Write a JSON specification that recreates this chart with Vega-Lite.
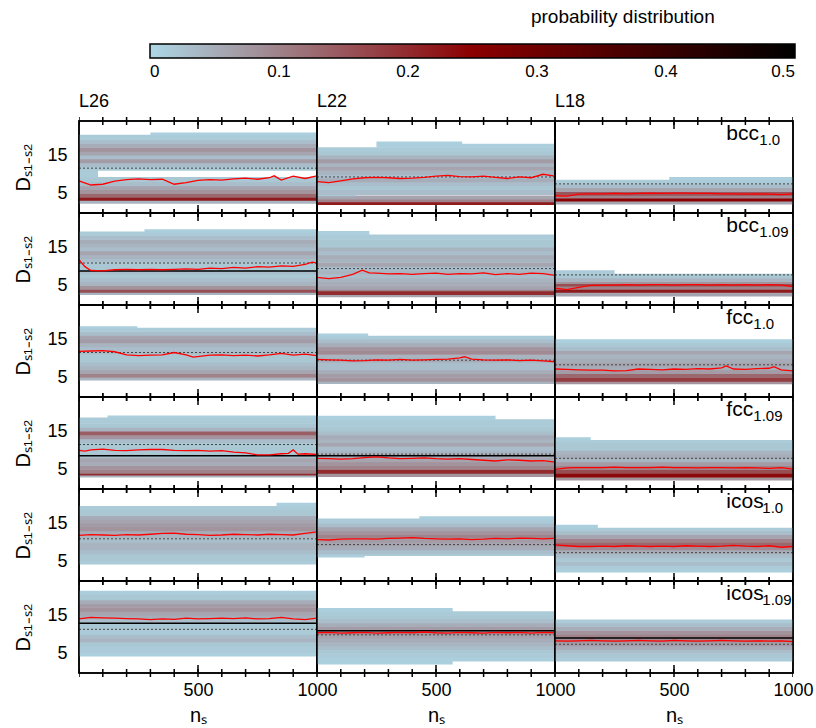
{
"$schema":"https://vega.github.io/schema/vega-lite/v6.json",
"padding":{"left":13,"top":8,"right":2,"bottom":2},
"title":{"text":"probability distribution","anchor":"start","dx":517,"fontSize":19,"fontWeight":"normal","font":"Liberation Sans","offset":17},
"data":{"values":[
{"c":"L26","r":"b0","a":0,"b":1000,"y":2.4,"z":3.2,"v":0.04},{"c":"L26","r":"b0","a":0,"b":1000,"y":3.2,"z":4,"v":0.22},{"c":"L26","r":"b0","a":0,"b":1000,"y":4,"z":5,"v":0.13},{"c":"L26","r":"b0","a":0,"b":1000,"y":5,"z":6,"v":0.08},{"c":"L26","r":"b0","a":0,"b":1000,"y":6,"z":7,"v":0.06},{"c":"L26","r":"b0","a":0,"b":1000,"y":7,"z":8,"v":0.03},{"c":"L26","r":"b0","a":0,"b":1000,"y":8,"z":9.2,"v":0.02},{"c":"L26","r":"b0","a":0,"b":80,"y":9.2,"z":11,"v":0.015},{"c":"L26","r":"b0","a":0,"b":1000,"y":11,"z":12,"v":0.02},{"c":"L26","r":"b0","a":0,"b":1000,"y":12,"z":13,"v":0.03},{"c":"L26","r":"b0","a":0,"b":1000,"y":13,"z":14,"v":0.07},{"c":"L26","r":"b0","a":0,"b":1000,"y":14,"z":15,"v":0.03},{"c":"L26","r":"b0","a":0,"b":1000,"y":15,"z":16,"v":0.06},{"c":"L26","r":"b0","a":0,"b":1000,"y":16,"z":17,"v":0.08},{"c":"L26","r":"b0","a":0,"b":1000,"y":17,"z":18,"v":0.05},{"c":"L26","r":"b0","a":0,"b":1000,"y":18,"z":19,"v":0.03},{"c":"L26","r":"b0","a":0,"b":1000,"y":19,"z":20.2,"v":0.015},{"c":"L26","r":"b0","a":300,"b":1000,"y":20.2,"z":20.8,"v":0.01},
{"c":"L22","r":"b0","a":0,"b":1000,"y":2.1,"z":2.8,"v":0.22},{"c":"L22","r":"b0","a":0,"b":1000,"y":2.8,"z":3.5,"v":0.1},{"c":"L22","r":"b0","a":0,"b":1000,"y":3.5,"z":4.4,"v":0.06},{"c":"L22","r":"b0","a":0,"b":165,"y":4.4,"z":4.7,"v":0.02},{"c":"L22","r":"b0","a":0,"b":1000,"y":4.7,"z":6,"v":0.03},{"c":"L22","r":"b0","a":0,"b":1000,"y":6,"z":7,"v":0.02},{"c":"L22","r":"b0","a":0,"b":1000,"y":7,"z":8,"v":0.03},{"c":"L22","r":"b0","a":0,"b":1000,"y":8,"z":9,"v":0.05},{"c":"L22","r":"b0","a":0,"b":1000,"y":9,"z":10,"v":0.03},{"c":"L22","r":"b0","a":0,"b":1000,"y":10,"z":11,"v":0.04},{"c":"L22","r":"b0","a":0,"b":1000,"y":11,"z":12,"v":0.06},{"c":"L22","r":"b0","a":0,"b":1000,"y":12,"z":13,"v":0.04},{"c":"L22","r":"b0","a":0,"b":1000,"y":13,"z":14,"v":0.07},{"c":"L22","r":"b0","a":0,"b":1000,"y":14,"z":15,"v":0.04},{"c":"L22","r":"b0","a":0,"b":1000,"y":15,"z":16,"v":0.02},{"c":"L22","r":"b0","a":0,"b":1000,"y":16,"z":17,"v":0.015},{"c":"L22","r":"b0","a":250,"b":1000,"y":17,"z":17.9,"v":0.01},{"c":"L22","r":"b0","a":250,"b":610,"y":17.9,"z":18.5,"v":0.01},
{"c":"L18","r":"b0","a":0,"b":1000,"y":2.2,"z":3,"v":0.06},{"c":"L18","r":"b0","a":0,"b":1000,"y":3,"z":3.8,"v":0.25},{"c":"L18","r":"b0","a":0,"b":1000,"y":3.8,"z":4.5,"v":0.1},{"c":"L18","r":"b0","a":0,"b":1000,"y":4.5,"z":5.5,"v":0.15},{"c":"L18","r":"b0","a":0,"b":1000,"y":5.5,"z":6.5,"v":0.06},{"c":"L18","r":"b0","a":0,"b":1000,"y":6.5,"z":7.5,"v":0.03},{"c":"L18","r":"b0","a":0,"b":1000,"y":7.5,"z":8.5,"v":0.015},{"c":"L18","r":"b0","a":480,"b":1000,"y":8.5,"z":9.2,"v":0.01},
{"c":"L26","r":"b9","a":0,"b":1000,"y":2.6,"z":3.2,"v":0.04},{"c":"L26","r":"b9","a":0,"b":1000,"y":3.2,"z":4,"v":0.16},{"c":"L26","r":"b9","a":0,"b":1000,"y":4,"z":5,"v":0.08},{"c":"L26","r":"b9","a":0,"b":1000,"y":5,"z":6,"v":0.04},{"c":"L26","r":"b9","a":0,"b":1000,"y":6,"z":7,"v":0.03},{"c":"L26","r":"b9","a":0,"b":1000,"y":7,"z":8,"v":0.02},{"c":"L26","r":"b9","a":0,"b":1000,"y":8,"z":9,"v":0.03},{"c":"L26","r":"b9","a":0,"b":1000,"y":9,"z":10,"v":0.02},{"c":"L26","r":"b9","a":0,"b":1000,"y":10,"z":11,"v":0.02},{"c":"L26","r":"b9","a":0,"b":1000,"y":11,"z":12,"v":0.03},{"c":"L26","r":"b9","a":0,"b":1000,"y":12,"z":13,"v":0.04},{"c":"L26","r":"b9","a":0,"b":1000,"y":13,"z":14,"v":0.06},{"c":"L26","r":"b9","a":0,"b":1000,"y":14,"z":15,"v":0.03},{"c":"L26","r":"b9","a":0,"b":1000,"y":15,"z":16,"v":0.04},{"c":"L26","r":"b9","a":0,"b":1000,"y":16,"z":17,"v":0.05},{"c":"L26","r":"b9","a":0,"b":1000,"y":17,"z":18,"v":0.03},{"c":"L26","r":"b9","a":0,"b":1000,"y":18,"z":19,"v":0.015},{"c":"L26","r":"b9","a":275,"b":1000,"y":19,"z":19.6,"v":0.01},
{"c":"L22","r":"b9","a":0,"b":1000,"y":2,"z":2.6,"v":0.06},{"c":"L22","r":"b9","a":0,"b":1000,"y":2.6,"z":3.6,"v":0.2},{"c":"L22","r":"b9","a":0,"b":1000,"y":3.6,"z":4,"v":0.1},{"c":"L22","r":"b9","a":0,"b":1000,"y":4,"z":5,"v":0.06},{"c":"L22","r":"b9","a":0,"b":1000,"y":5,"z":6,"v":0.05},{"c":"L22","r":"b9","a":0,"b":1000,"y":6,"z":7,"v":0.04},{"c":"L22","r":"b9","a":0,"b":1000,"y":7,"z":8,"v":0.03},{"c":"L22","r":"b9","a":0,"b":1000,"y":8,"z":9,"v":0.04},{"c":"L22","r":"b9","a":0,"b":1000,"y":9,"z":10,"v":0.03},{"c":"L22","r":"b9","a":0,"b":1000,"y":10,"z":11,"v":0.06},{"c":"L22","r":"b9","a":0,"b":1000,"y":11,"z":12,"v":0.04},{"c":"L22","r":"b9","a":0,"b":1000,"y":12,"z":13,"v":0.05},{"c":"L22","r":"b9","a":0,"b":1000,"y":13,"z":14,"v":0.03},{"c":"L22","r":"b9","a":0,"b":1000,"y":14,"z":15,"v":0.04},{"c":"L22","r":"b9","a":0,"b":1000,"y":15,"z":16,"v":0.02},{"c":"L22","r":"b9","a":0,"b":1000,"y":16,"z":17,"v":0.02},{"c":"L22","r":"b9","a":0,"b":1000,"y":17,"z":18.2,"v":0.015},{"c":"L22","r":"b9","a":0,"b":220,"y":18.2,"z":19.1,"v":0.01},
{"c":"L18","r":"b9","a":0,"b":1000,"y":2.2,"z":3.2,"v":0.06},{"c":"L18","r":"b9","a":0,"b":1000,"y":3.2,"z":4,"v":0.22},{"c":"L18","r":"b9","a":0,"b":1000,"y":4,"z":4.8,"v":0.1},{"c":"L18","r":"b9","a":0,"b":1000,"y":4.8,"z":5.5,"v":0.16},{"c":"L18","r":"b9","a":0,"b":1000,"y":5.5,"z":6,"v":0.08},{"c":"L18","r":"b9","a":0,"b":1000,"y":6,"z":7,"v":0.04},{"c":"L18","r":"b9","a":0,"b":1000,"y":7,"z":8,"v":0.02},{"c":"L18","r":"b9","a":0,"b":250,"y":8,"z":8.9,"v":0.015},
{"c":"L26","r":"f0","a":0,"b":1000,"y":4.3,"z":5,"v":0.04},{"c":"L26","r":"f0","a":0,"b":1000,"y":5,"z":6,"v":0.1},{"c":"L26","r":"f0","a":0,"b":1000,"y":6,"z":7,"v":0.06},{"c":"L26","r":"f0","a":0,"b":1000,"y":7,"z":8,"v":0.04},{"c":"L26","r":"f0","a":0,"b":1000,"y":8,"z":9,"v":0.03},{"c":"L26","r":"f0","a":0,"b":1000,"y":9,"z":10,"v":0.02},{"c":"L26","r":"f0","a":0,"b":1000,"y":10,"z":11,"v":0.02},{"c":"L26","r":"f0","a":0,"b":1000,"y":11,"z":12,"v":0.03},{"c":"L26","r":"f0","a":0,"b":1000,"y":12,"z":13,"v":0.03},{"c":"L26","r":"f0","a":0,"b":1000,"y":13,"z":14,"v":0.04},{"c":"L26","r":"f0","a":0,"b":1000,"y":14,"z":15,"v":0.07},{"c":"L26","r":"f0","a":0,"b":1000,"y":15,"z":16,"v":0.06},{"c":"L26","r":"f0","a":0,"b":1000,"y":16,"z":17,"v":0.03},{"c":"L26","r":"f0","a":0,"b":1000,"y":17,"z":17.9,"v":0.015},{"c":"L26","r":"f0","a":0,"b":245,"y":17.9,"z":18.3,"v":0.01},
{"c":"L22","r":"f0","a":0,"b":1000,"y":3.4,"z":4,"v":0.04},{"c":"L22","r":"f0","a":0,"b":1000,"y":4,"z":5,"v":0.08},{"c":"L22","r":"f0","a":0,"b":1000,"y":5,"z":6,"v":0.07},{"c":"L22","r":"f0","a":0,"b":1000,"y":6,"z":7,"v":0.05},{"c":"L22","r":"f0","a":0,"b":1000,"y":7,"z":8,"v":0.03},{"c":"L22","r":"f0","a":0,"b":1000,"y":8,"z":9,"v":0.03},{"c":"L22","r":"f0","a":0,"b":1000,"y":9,"z":10,"v":0.05},{"c":"L22","r":"f0","a":0,"b":1000,"y":10,"z":11,"v":0.04},{"c":"L22","r":"f0","a":0,"b":1000,"y":11,"z":12,"v":0.09},{"c":"L22","r":"f0","a":0,"b":1000,"y":12,"z":13,"v":0.08},{"c":"L22","r":"f0","a":0,"b":1000,"y":13,"z":14,"v":0.05},{"c":"L22","r":"f0","a":0,"b":1000,"y":14,"z":15,"v":0.03},{"c":"L22","r":"f0","a":0,"b":1000,"y":15,"z":15.8,"v":0.015},{"c":"L22","r":"f0","a":0,"b":215,"y":15.8,"z":16.4,"v":0.01},
{"c":"L18","r":"f0","a":0,"b":1000,"y":3.3,"z":4,"v":0.08},{"c":"L18","r":"f0","a":0,"b":1000,"y":4,"z":5,"v":0.18},{"c":"L18","r":"f0","a":0,"b":1000,"y":5,"z":6,"v":0.13},{"c":"L18","r":"f0","a":0,"b":1000,"y":6,"z":7,"v":0.07},{"c":"L18","r":"f0","a":0,"b":1000,"y":7,"z":8,"v":0.05},{"c":"L18","r":"f0","a":0,"b":1000,"y":8,"z":9,"v":0.06},{"c":"L18","r":"f0","a":0,"b":1000,"y":9,"z":10,"v":0.05},{"c":"L18","r":"f0","a":0,"b":1000,"y":10,"z":11,"v":0.04},{"c":"L18","r":"f0","a":0,"b":1000,"y":11,"z":12,"v":0.06},{"c":"L18","r":"f0","a":0,"b":1000,"y":12,"z":13,"v":0.03},{"c":"L18","r":"f0","a":0,"b":1000,"y":13,"z":14,"v":0.02},{"c":"L18","r":"f0","a":0,"b":1000,"y":14,"z":14.9,"v":0.01},
{"c":"L26","r":"f9","a":0,"b":1000,"y":3,"z":3.5,"v":0.04},{"c":"L26","r":"f9","a":0,"b":1000,"y":3.5,"z":4,"v":0.2},{"c":"L26","r":"f9","a":0,"b":1000,"y":4,"z":5,"v":0.1},{"c":"L26","r":"f9","a":0,"b":1000,"y":5,"z":6,"v":0.08},{"c":"L26","r":"f9","a":0,"b":1000,"y":6,"z":7,"v":0.05},{"c":"L26","r":"f9","a":0,"b":1000,"y":7,"z":8,"v":0.06},{"c":"L26","r":"f9","a":0,"b":1000,"y":8,"z":9,"v":0.03},{"c":"L26","r":"f9","a":0,"b":1000,"y":9,"z":10,"v":0.02},{"c":"L26","r":"f9","a":0,"b":1000,"y":10,"z":11,"v":0.02},{"c":"L26","r":"f9","a":0,"b":1000,"y":11,"z":12,"v":0.02},{"c":"L26","r":"f9","a":0,"b":1000,"y":12,"z":13,"v":0.03},{"c":"L26","r":"f9","a":0,"b":1000,"y":13,"z":14,"v":0.08},{"c":"L26","r":"f9","a":0,"b":1000,"y":14,"z":15,"v":0.14},{"c":"L26","r":"f9","a":0,"b":1000,"y":15,"z":16,"v":0.04},{"c":"L26","r":"f9","a":0,"b":1000,"y":16,"z":17,"v":0.02},{"c":"L26","r":"f9","a":0,"b":1000,"y":17,"z":18.5,"v":0.015},{"c":"L26","r":"f9","a":120,"b":1000,"y":18.5,"z":19,"v":0.01},
{"c":"L22","r":"f9","a":0,"b":1000,"y":3.1,"z":4,"v":0.08},{"c":"L22","r":"f9","a":0,"b":1000,"y":4,"z":5,"v":0.2},{"c":"L22","r":"f9","a":0,"b":1000,"y":5,"z":6,"v":0.1},{"c":"L22","r":"f9","a":0,"b":1000,"y":6,"z":7,"v":0.08},{"c":"L22","r":"f9","a":0,"b":1000,"y":7,"z":8,"v":0.06},{"c":"L22","r":"f9","a":0,"b":1000,"y":8,"z":9,"v":0.05},{"c":"L22","r":"f9","a":0,"b":1000,"y":9,"z":10,"v":0.04},{"c":"L22","r":"f9","a":0,"b":1000,"y":10,"z":11,"v":0.03},{"c":"L22","r":"f9","a":0,"b":1000,"y":11,"z":12,"v":0.06},{"c":"L22","r":"f9","a":0,"b":1000,"y":12,"z":13,"v":0.04},{"c":"L22","r":"f9","a":0,"b":1000,"y":13,"z":14,"v":0.05},{"c":"L22","r":"f9","a":0,"b":1000,"y":14,"z":15,"v":0.03},{"c":"L22","r":"f9","a":0,"b":1000,"y":15,"z":16,"v":0.02},{"c":"L22","r":"f9","a":0,"b":1000,"y":16,"z":18,"v":0.015},{"c":"L22","r":"f9","a":0,"b":750,"y":18,"z":18.9,"v":0.01},
{"c":"L18","r":"f9","a":0,"b":1000,"y":2.2,"z":3,"v":0.08},{"c":"L18","r":"f9","a":0,"b":1000,"y":3,"z":4,"v":0.24},{"c":"L18","r":"f9","a":0,"b":1000,"y":4,"z":5,"v":0.16},{"c":"L18","r":"f9","a":0,"b":1000,"y":5,"z":6,"v":0.1},{"c":"L18","r":"f9","a":0,"b":1000,"y":6,"z":7,"v":0.07},{"c":"L18","r":"f9","a":0,"b":1000,"y":7,"z":8,"v":0.04},{"c":"L18","r":"f9","a":0,"b":1000,"y":8,"z":9,"v":0.05},{"c":"L18","r":"f9","a":0,"b":1000,"y":9,"z":10,"v":0.04},{"c":"L18","r":"f9","a":0,"b":1000,"y":10,"z":12,"v":0.02},{"c":"L18","r":"f9","a":0,"b":1000,"y":12,"z":12.6,"v":0.015},{"c":"L18","r":"f9","a":0,"b":150,"y":12.6,"z":13.3,"v":0.01},
{"c":"L26","r":"i0","a":0,"b":1000,"y":4.3,"z":5,"v":0.015},{"c":"L26","r":"i0","a":0,"b":1000,"y":5,"z":7,"v":0.02},{"c":"L26","r":"i0","a":0,"b":1000,"y":7,"z":8,"v":0.03},{"c":"L26","r":"i0","a":0,"b":1000,"y":8,"z":10,"v":0.04},{"c":"L26","r":"i0","a":0,"b":1000,"y":10,"z":11,"v":0.03},{"c":"L26","r":"i0","a":0,"b":1000,"y":11,"z":12,"v":0.04},{"c":"L26","r":"i0","a":0,"b":1000,"y":12,"z":13,"v":0.05},{"c":"L26","r":"i0","a":0,"b":1000,"y":13,"z":14,"v":0.08},{"c":"L26","r":"i0","a":0,"b":1000,"y":14,"z":15,"v":0.07},{"c":"L26","r":"i0","a":0,"b":1000,"y":15,"z":16,"v":0.06},{"c":"L26","r":"i0","a":0,"b":1000,"y":16,"z":17,"v":0.05},{"c":"L26","r":"i0","a":0,"b":1000,"y":17,"z":18.5,"v":0.02},{"c":"L26","r":"i0","a":0,"b":1000,"y":18.5,"z":19.4,"v":0.015},{"c":"L26","r":"i0","a":830,"b":1000,"y":19.4,"z":20.2,"v":0.01},
{"c":"L22","r":"i0","a":0,"b":200,"y":6.1,"z":6.5,"v":0.01},{"c":"L22","r":"i0","a":0,"b":1000,"y":6.5,"z":7,"v":0.015},{"c":"L22","r":"i0","a":0,"b":1000,"y":7,"z":8,"v":0.03},{"c":"L22","r":"i0","a":0,"b":1000,"y":8,"z":9,"v":0.05},{"c":"L22","r":"i0","a":0,"b":1000,"y":9,"z":10,"v":0.06},{"c":"L22","r":"i0","a":0,"b":1000,"y":10,"z":11,"v":0.07},{"c":"L22","r":"i0","a":0,"b":1000,"y":11,"z":12,"v":0.1},{"c":"L22","r":"i0","a":0,"b":1000,"y":12,"z":13,"v":0.08},{"c":"L22","r":"i0","a":0,"b":1000,"y":13,"z":14,"v":0.06},{"c":"L22","r":"i0","a":0,"b":1000,"y":14,"z":15,"v":0.03},{"c":"L22","r":"i0","a":0,"b":1000,"y":15,"z":16.1,"v":0.015},{"c":"L22","r":"i0","a":430,"b":1000,"y":16.1,"z":16.7,"v":0.01},
{"c":"L18","r":"i0","a":0,"b":1000,"y":2.2,"z":3,"v":0.01},{"c":"L18","r":"i0","a":0,"b":1000,"y":3,"z":4,"v":0.015},{"c":"L18","r":"i0","a":0,"b":1000,"y":4,"z":5,"v":0.03},{"c":"L18","r":"i0","a":0,"b":1000,"y":5,"z":6,"v":0.02},{"c":"L18","r":"i0","a":0,"b":1000,"y":6,"z":7,"v":0.03},{"c":"L18","r":"i0","a":0,"b":1000,"y":7,"z":8,"v":0.05},{"c":"L18","r":"i0","a":0,"b":1000,"y":8,"z":9,"v":0.09},{"c":"L18","r":"i0","a":0,"b":1000,"y":9,"z":10,"v":0.13},{"c":"L18","r":"i0","a":0,"b":1000,"y":10,"z":11,"v":0.1},{"c":"L18","r":"i0","a":0,"b":1000,"y":11,"z":12,"v":0.06},{"c":"L18","r":"i0","a":0,"b":1000,"y":12,"z":13,"v":0.03},{"c":"L18","r":"i0","a":0,"b":1000,"y":13,"z":13.7,"v":0.015},{"c":"L18","r":"i0","a":0,"b":180,"y":13.7,"z":14.5,"v":0.01},
{"c":"L26","r":"i9","a":0,"b":1000,"y":4.3,"z":5,"v":0.01},{"c":"L26","r":"i9","a":0,"b":1000,"y":5,"z":7,"v":0.015},{"c":"L26","r":"i9","a":0,"b":1000,"y":7,"z":8,"v":0.02},{"c":"L26","r":"i9","a":0,"b":1000,"y":8,"z":9,"v":0.04},{"c":"L26","r":"i9","a":0,"b":1000,"y":9,"z":10,"v":0.03},{"c":"L26","r":"i9","a":0,"b":1000,"y":10,"z":11,"v":0.015},{"c":"L26","r":"i9","a":0,"b":1000,"y":11,"z":13,"v":0.02},{"c":"L26","r":"i9","a":0,"b":1000,"y":13,"z":14,"v":0.03},{"c":"L26","r":"i9","a":0,"b":1000,"y":14,"z":15,"v":0.05},{"c":"L26","r":"i9","a":0,"b":1000,"y":15,"z":16,"v":0.06},{"c":"L26","r":"i9","a":0,"b":1000,"y":16,"z":17,"v":0.08},{"c":"L26","r":"i9","a":0,"b":1000,"y":17,"z":18,"v":0.07},{"c":"L26","r":"i9","a":0,"b":1000,"y":18,"z":19,"v":0.05},{"c":"L26","r":"i9","a":0,"b":1000,"y":19,"z":20.5,"v":0.02},{"c":"L26","r":"i9","a":0,"b":1000,"y":20.5,"z":21.3,"v":0.01},
{"c":"L22","r":"i9","a":0,"b":570,"y":2.2,"z":3,"v":0.01},{"c":"L22","r":"i9","a":0,"b":1000,"y":3,"z":4,"v":0.01},{"c":"L22","r":"i9","a":0,"b":1000,"y":4,"z":5,"v":0.015},{"c":"L22","r":"i9","a":0,"b":1000,"y":5,"z":6,"v":0.02},{"c":"L22","r":"i9","a":0,"b":1000,"y":6,"z":7,"v":0.03},{"c":"L22","r":"i9","a":0,"b":1000,"y":7,"z":8,"v":0.04},{"c":"L22","r":"i9","a":0,"b":1000,"y":8,"z":9,"v":0.05},{"c":"L22","r":"i9","a":0,"b":1000,"y":9,"z":10,"v":0.06},{"c":"L22","r":"i9","a":0,"b":1000,"y":10,"z":11,"v":0.08},{"c":"L22","r":"i9","a":0,"b":1000,"y":11,"z":12,"v":0.07},{"c":"L22","r":"i9","a":0,"b":1000,"y":12,"z":13,"v":0.05},{"c":"L22","r":"i9","a":0,"b":1000,"y":13,"z":14,"v":0.03},{"c":"L22","r":"i9","a":0,"b":1000,"y":14,"z":15,"v":0.02},{"c":"L22","r":"i9","a":0,"b":1000,"y":15,"z":15.9,"v":0.015},{"c":"L22","r":"i9","a":0,"b":570,"y":15.9,"z":16.8,"v":0.01},
{"c":"L18","r":"i9","a":0,"b":1000,"y":3,"z":4,"v":0.015},{"c":"L18","r":"i9","a":0,"b":1000,"y":4,"z":5,"v":0.02},{"c":"L18","r":"i9","a":0,"b":1000,"y":5,"z":6,"v":0.03},{"c":"L18","r":"i9","a":0,"b":1000,"y":6,"z":7,"v":0.05},{"c":"L18","r":"i9","a":0,"b":1000,"y":7,"z":8,"v":0.07},{"c":"L18","r":"i9","a":0,"b":1000,"y":8,"z":9,"v":0.09},{"c":"L18","r":"i9","a":0,"b":1000,"y":9,"z":10,"v":0.1},{"c":"L18","r":"i9","a":0,"b":1000,"y":10,"z":11,"v":0.08},{"c":"L18","r":"i9","a":0,"b":1000,"y":11,"z":12,"v":0.05},{"c":"L18","r":"i9","a":0,"b":1000,"y":12,"z":13,"v":0.03},{"c":"L18","r":"i9","a":0,"b":1000,"y":13,"z":13.8,"v":0.015},
{"c":"L26","r":"b0","d":11.7},{"c":"L22","r":"b0","d":9.4},{"c":"L18","r":"b0","d":7.6},
{"c":"L26","r":"b9","d":10.95,"s":8.85},{"c":"L22","r":"b9","d":9.5},{"c":"L18","r":"b9","d":7.85},
{"c":"L26","r":"f0","d":11.6},{"c":"L22","r":"f0","d":9.6},{"c":"L18","r":"f0","d":8.4},
{"c":"L26","r":"f9","d":11.6,"s":8.7},{"c":"L22","r":"f9","d":9.1,"s":8.7},{"c":"L18","r":"f9","d":8.0},
{"c":"L26","r":"i0","d":11.0},{"c":"L22","r":"i0","d":9.5},{"c":"L18","r":"i0","d":7.4},
{"c":"L26","r":"i9","d":11.4,"s":13.0},{"c":"L22","r":"i9","d":9.95,"s":11.0},{"c":"L18","r":"i9","d":7.5,"s":9.1},
{"c":"L18","r":"b0","t":"bcc","u":"1.0"},{"c":"L18","r":"b9","t":"bcc","u":"1.09"},{"c":"L18","r":"f0","t":"fcc","u":"1.0"},{"c":"L18","r":"f9","t":"fcc","u":"1.09"},{"c":"L18","r":"i0","t":"icos","u":"1.0"},{"c":"L18","r":"i9","t":"icos","u":"1.09"},
{"c":"L26","r":"b0","n":0,"m":8.4},{"c":"L26","r":"b0","n":50,"m":7.3},{"c":"L26","r":"b0","n":100,"m":7.5},{"c":"L26","r":"b0","n":150,"m":8.3},{"c":"L26","r":"b0","n":200,"m":8.7},{"c":"L26","r":"b0","n":250,"m":8.9},{"c":"L26","r":"b0","n":300,"m":8.7},{"c":"L26","r":"b0","n":350,"m":8.8},{"c":"L26","r":"b0","n":400,"m":7.5},{"c":"L26","r":"b0","n":450,"m":7.9},{"c":"L26","r":"b0","n":500,"m":8.5},{"c":"L26","r":"b0","n":550,"m":8.7},{"c":"L26","r":"b0","n":600,"m":8.6},{"c":"L26","r":"b0","n":650,"m":8.9},{"c":"L26","r":"b0","n":700,"m":9.1},{"c":"L26","r":"b0","n":750,"m":8.8},{"c":"L26","r":"b0","n":800,"m":9.2},{"c":"L26","r":"b0","n":820,"m":9.7},{"c":"L26","r":"b0","n":850,"m":8.6},{"c":"L26","r":"b0","n":900,"m":9.6},{"c":"L26","r":"b0","n":950,"m":9.0},{"c":"L26","r":"b0","n":1000,"m":9.7},
{"c":"L22","r":"b0","n":0,"m":8.2},{"c":"L22","r":"b0","n":50,"m":7.9},{"c":"L22","r":"b0","n":100,"m":8.4},{"c":"L22","r":"b0","n":150,"m":8.9},{"c":"L22","r":"b0","n":200,"m":9.2},{"c":"L22","r":"b0","n":250,"m":9.3},{"c":"L22","r":"b0","n":300,"m":9.2},{"c":"L22","r":"b0","n":350,"m":9.0},{"c":"L22","r":"b0","n":400,"m":9.1},{"c":"L22","r":"b0","n":450,"m":9.3},{"c":"L22","r":"b0","n":500,"m":9.6},{"c":"L22","r":"b0","n":550,"m":9.8},{"c":"L22","r":"b0","n":600,"m":9.5},{"c":"L22","r":"b0","n":650,"m":9.4},{"c":"L22","r":"b0","n":700,"m":9.6},{"c":"L22","r":"b0","n":750,"m":9.3},{"c":"L22","r":"b0","n":800,"m":9.0},{"c":"L22","r":"b0","n":850,"m":9.4},{"c":"L22","r":"b0","n":900,"m":9.2},{"c":"L22","r":"b0","n":950,"m":10.1},{"c":"L22","r":"b0","n":1000,"m":9.6},
{"c":"L18","r":"b0","n":0,"m":4.5},{"c":"L18","r":"b0","n":50,"m":4.4},{"c":"L18","r":"b0","n":100,"m":4.9},{"c":"L18","r":"b0","n":150,"m":5.0},{"c":"L18","r":"b0","n":200,"m":5.0},{"c":"L18","r":"b0","n":250,"m":5.1},{"c":"L18","r":"b0","n":300,"m":5.0},{"c":"L18","r":"b0","n":350,"m":5.1},{"c":"L18","r":"b0","n":400,"m":5.2},{"c":"L18","r":"b0","n":450,"m":5.1},{"c":"L18","r":"b0","n":500,"m":5.2},{"c":"L18","r":"b0","n":550,"m":5.2},{"c":"L18","r":"b0","n":600,"m":5.1},{"c":"L18","r":"b0","n":650,"m":5.1},{"c":"L18","r":"b0","n":700,"m":5.0},{"c":"L18","r":"b0","n":750,"m":5.0},{"c":"L18","r":"b0","n":800,"m":4.9},{"c":"L18","r":"b0","n":850,"m":5.0},{"c":"L18","r":"b0","n":900,"m":4.9},{"c":"L18","r":"b0","n":950,"m":4.8},{"c":"L18","r":"b0","n":1000,"m":5.0},
{"c":"L26","r":"b9","n":0,"m":11.8},{"c":"L26","r":"b9","n":25,"m":10.0},{"c":"L26","r":"b9","n":50,"m":9.0},{"c":"L26","r":"b9","n":100,"m":8.9},{"c":"L26","r":"b9","n":150,"m":9.2},{"c":"L26","r":"b9","n":200,"m":9.3},{"c":"L26","r":"b9","n":250,"m":9.2},{"c":"L26","r":"b9","n":300,"m":9.3},{"c":"L26","r":"b9","n":350,"m":9.2},{"c":"L26","r":"b9","n":400,"m":9.3},{"c":"L26","r":"b9","n":450,"m":9.4},{"c":"L26","r":"b9","n":500,"m":9.3},{"c":"L26","r":"b9","n":550,"m":9.6},{"c":"L26","r":"b9","n":600,"m":9.5},{"c":"L26","r":"b9","n":650,"m":9.8},{"c":"L26","r":"b9","n":700,"m":9.6},{"c":"L26","r":"b9","n":750,"m":10.0},{"c":"L26","r":"b9","n":800,"m":9.9},{"c":"L26","r":"b9","n":850,"m":10.2},{"c":"L26","r":"b9","n":900,"m":10.1},{"c":"L26","r":"b9","n":950,"m":10.6},{"c":"L26","r":"b9","n":980,"m":11.2},{"c":"L26","r":"b9","n":1000,"m":10.9},
{"c":"L22","r":"b9","n":0,"m":7.2},{"c":"L22","r":"b9","n":50,"m":6.9},{"c":"L22","r":"b9","n":100,"m":7.2},{"c":"L22","r":"b9","n":150,"m":8.0},{"c":"L22","r":"b9","n":190,"m":9.1},{"c":"L22","r":"b9","n":220,"m":8.4},{"c":"L22","r":"b9","n":250,"m":8.3},{"c":"L22","r":"b9","n":300,"m":8.1},{"c":"L22","r":"b9","n":350,"m":8.2},{"c":"L22","r":"b9","n":400,"m":8.0},{"c":"L22","r":"b9","n":450,"m":8.2},{"c":"L22","r":"b9","n":500,"m":8.3},{"c":"L22","r":"b9","n":550,"m":8.0},{"c":"L22","r":"b9","n":600,"m":8.2},{"c":"L22","r":"b9","n":650,"m":8.1},{"c":"L22","r":"b9","n":700,"m":8.4},{"c":"L22","r":"b9","n":750,"m":7.9},{"c":"L22","r":"b9","n":800,"m":8.2},{"c":"L22","r":"b9","n":850,"m":8.0},{"c":"L22","r":"b9","n":900,"m":8.3},{"c":"L22","r":"b9","n":950,"m":8.2},{"c":"L22","r":"b9","n":1000,"m":7.7},
{"c":"L18","r":"b9","n":0,"m":4.4},{"c":"L18","r":"b9","n":50,"m":4.0},{"c":"L18","r":"b9","n":100,"m":4.6},{"c":"L18","r":"b9","n":150,"m":5.1},{"c":"L18","r":"b9","n":200,"m":5.2},{"c":"L18","r":"b9","n":250,"m":5.2},{"c":"L18","r":"b9","n":300,"m":5.3},{"c":"L18","r":"b9","n":350,"m":5.2},{"c":"L18","r":"b9","n":400,"m":5.3},{"c":"L18","r":"b9","n":450,"m":5.3},{"c":"L18","r":"b9","n":500,"m":5.2},{"c":"L18","r":"b9","n":550,"m":5.3},{"c":"L18","r":"b9","n":600,"m":5.3},{"c":"L18","r":"b9","n":650,"m":5.2},{"c":"L18","r":"b9","n":700,"m":5.3},{"c":"L18","r":"b9","n":750,"m":5.2},{"c":"L18","r":"b9","n":800,"m":5.3},{"c":"L18","r":"b9","n":850,"m":5.2},{"c":"L18","r":"b9","n":900,"m":5.3},{"c":"L18","r":"b9","n":950,"m":5.2},{"c":"L18","r":"b9","n":1000,"m":4.8},
{"c":"L26","r":"f0","n":0,"m":11.9},{"c":"L26","r":"f0","n":50,"m":12.0},{"c":"L26","r":"f0","n":100,"m":12.1},{"c":"L26","r":"f0","n":150,"m":11.8},{"c":"L26","r":"f0","n":200,"m":11.0},{"c":"L26","r":"f0","n":250,"m":10.8},{"c":"L26","r":"f0","n":300,"m":10.9},{"c":"L26","r":"f0","n":350,"m":11.0},{"c":"L26","r":"f0","n":400,"m":11.6},{"c":"L26","r":"f0","n":450,"m":11.0},{"c":"L26","r":"f0","n":480,"m":10.4},{"c":"L26","r":"f0","n":550,"m":10.9},{"c":"L26","r":"f0","n":600,"m":11.0},{"c":"L26","r":"f0","n":650,"m":10.8},{"c":"L26","r":"f0","n":700,"m":10.9},{"c":"L26","r":"f0","n":750,"m":10.7},{"c":"L26","r":"f0","n":800,"m":11.0},{"c":"L26","r":"f0","n":850,"m":11.4},{"c":"L26","r":"f0","n":900,"m":10.9},{"c":"L26","r":"f0","n":950,"m":11.2},{"c":"L26","r":"f0","n":1000,"m":10.8},
{"c":"L22","r":"f0","n":0,"m":9.8},{"c":"L22","r":"f0","n":50,"m":9.7},{"c":"L22","r":"f0","n":100,"m":9.6},{"c":"L22","r":"f0","n":150,"m":9.4},{"c":"L22","r":"f0","n":200,"m":9.5},{"c":"L22","r":"f0","n":250,"m":9.7},{"c":"L22","r":"f0","n":300,"m":9.6},{"c":"L22","r":"f0","n":350,"m":9.8},{"c":"L22","r":"f0","n":400,"m":9.6},{"c":"L22","r":"f0","n":450,"m":9.7},{"c":"L22","r":"f0","n":500,"m":9.8},{"c":"L22","r":"f0","n":550,"m":9.9},{"c":"L22","r":"f0","n":600,"m":10.2},{"c":"L22","r":"f0","n":620,"m":10.5},{"c":"L22","r":"f0","n":650,"m":9.9},{"c":"L22","r":"f0","n":700,"m":9.7},{"c":"L22","r":"f0","n":750,"m":9.6},{"c":"L22","r":"f0","n":800,"m":9.7},{"c":"L22","r":"f0","n":850,"m":9.5},{"c":"L22","r":"f0","n":900,"m":9.6},{"c":"L22","r":"f0","n":950,"m":9.4},{"c":"L22","r":"f0","n":1000,"m":9.2},
{"c":"L18","r":"f0","n":0,"m":7.3},{"c":"L18","r":"f0","n":50,"m":7.2},{"c":"L18","r":"f0","n":100,"m":7.1},{"c":"L18","r":"f0","n":150,"m":7.0},{"c":"L18","r":"f0","n":200,"m":7.0},{"c":"L18","r":"f0","n":250,"m":6.8},{"c":"L18","r":"f0","n":300,"m":6.9},{"c":"L18","r":"f0","n":350,"m":7.3},{"c":"L18","r":"f0","n":400,"m":7.2},{"c":"L18","r":"f0","n":450,"m":7.1},{"c":"L18","r":"f0","n":500,"m":7.3},{"c":"L18","r":"f0","n":550,"m":7.2},{"c":"L18","r":"f0","n":600,"m":7.4},{"c":"L18","r":"f0","n":650,"m":7.3},{"c":"L18","r":"f0","n":700,"m":7.6},{"c":"L18","r":"f0","n":720,"m":8.1},{"c":"L18","r":"f0","n":750,"m":7.3},{"c":"L18","r":"f0","n":800,"m":7.2},{"c":"L18","r":"f0","n":850,"m":7.4},{"c":"L18","r":"f0","n":900,"m":7.5},{"c":"L18","r":"f0","n":920,"m":7.9},{"c":"L18","r":"f0","n":950,"m":7.1},{"c":"L18","r":"f0","n":1000,"m":6.8},
{"c":"L26","r":"f9","n":0,"m":10.1},{"c":"L26","r":"f9","n":25,"m":9.9},{"c":"L26","r":"f9","n":50,"m":10.2},{"c":"L26","r":"f9","n":100,"m":10.4},{"c":"L26","r":"f9","n":150,"m":10.1},{"c":"L26","r":"f9","n":200,"m":10.0},{"c":"L26","r":"f9","n":250,"m":10.2},{"c":"L26","r":"f9","n":300,"m":10.3},{"c":"L26","r":"f9","n":350,"m":10.3},{"c":"L26","r":"f9","n":400,"m":10.1},{"c":"L26","r":"f9","n":450,"m":10.0},{"c":"L26","r":"f9","n":500,"m":10.1},{"c":"L26","r":"f9","n":550,"m":9.9},{"c":"L26","r":"f9","n":600,"m":10.0},{"c":"L26","r":"f9","n":650,"m":9.6},{"c":"L26","r":"f9","n":700,"m":9.4},{"c":"L26","r":"f9","n":750,"m":8.9},{"c":"L26","r":"f9","n":800,"m":8.9},{"c":"L26","r":"f9","n":850,"m":9.2},{"c":"L26","r":"f9","n":880,"m":9.3},{"c":"L26","r":"f9","n":900,"m":10.2},{"c":"L26","r":"f9","n":920,"m":9.1},{"c":"L26","r":"f9","n":950,"m":9.2},{"c":"L26","r":"f9","n":1000,"m":9.0},
{"c":"L22","r":"f9","n":0,"m":8.0},{"c":"L22","r":"f9","n":50,"m":7.9},{"c":"L22","r":"f9","n":100,"m":7.8},{"c":"L22","r":"f9","n":150,"m":7.9},{"c":"L22","r":"f9","n":200,"m":8.2},{"c":"L22","r":"f9","n":250,"m":8.4},{"c":"L22","r":"f9","n":300,"m":8.1},{"c":"L22","r":"f9","n":350,"m":7.9},{"c":"L22","r":"f9","n":400,"m":8.0},{"c":"L22","r":"f9","n":450,"m":8.1},{"c":"L22","r":"f9","n":500,"m":7.9},{"c":"L22","r":"f9","n":550,"m":7.8},{"c":"L22","r":"f9","n":600,"m":7.9},{"c":"L22","r":"f9","n":650,"m":7.7},{"c":"L22","r":"f9","n":700,"m":7.5},{"c":"L22","r":"f9","n":750,"m":7.3},{"c":"L22","r":"f9","n":800,"m":7.6},{"c":"L22","r":"f9","n":850,"m":7.5},{"c":"L22","r":"f9","n":900,"m":7.3},{"c":"L22","r":"f9","n":950,"m":7.4},{"c":"L22","r":"f9","n":1000,"m":7.0},
{"c":"L18","r":"f9","n":0,"m":5.1},{"c":"L18","r":"f9","n":50,"m":5.5},{"c":"L18","r":"f9","n":100,"m":5.6},{"c":"L18","r":"f9","n":150,"m":5.6},{"c":"L18","r":"f9","n":200,"m":5.6},{"c":"L18","r":"f9","n":250,"m":5.7},{"c":"L18","r":"f9","n":300,"m":5.6},{"c":"L18","r":"f9","n":350,"m":5.6},{"c":"L18","r":"f9","n":400,"m":5.6},{"c":"L18","r":"f9","n":450,"m":5.7},{"c":"L18","r":"f9","n":500,"m":5.6},{"c":"L18","r":"f9","n":550,"m":5.6},{"c":"L18","r":"f9","n":600,"m":5.5},{"c":"L18","r":"f9","n":650,"m":5.6},{"c":"L18","r":"f9","n":700,"m":5.6},{"c":"L18","r":"f9","n":750,"m":5.5},{"c":"L18","r":"f9","n":800,"m":5.6},{"c":"L18","r":"f9","n":850,"m":5.5},{"c":"L18","r":"f9","n":900,"m":5.4},{"c":"L18","r":"f9","n":950,"m":5.6},{"c":"L18","r":"f9","n":1000,"m":5.2},
{"c":"L26","r":"i0","n":0,"m":11.9},{"c":"L26","r":"i0","n":50,"m":12.1},{"c":"L26","r":"i0","n":100,"m":12.0},{"c":"L26","r":"i0","n":150,"m":11.9},{"c":"L26","r":"i0","n":200,"m":12.1},{"c":"L26","r":"i0","n":250,"m":12.0},{"c":"L26","r":"i0","n":300,"m":12.2},{"c":"L26","r":"i0","n":350,"m":12.4},{"c":"L26","r":"i0","n":400,"m":12.5},{"c":"L26","r":"i0","n":450,"m":12.2},{"c":"L26","r":"i0","n":500,"m":12.1},{"c":"L26","r":"i0","n":550,"m":11.9},{"c":"L26","r":"i0","n":600,"m":12.0},{"c":"L26","r":"i0","n":650,"m":12.2},{"c":"L26","r":"i0","n":700,"m":12.1},{"c":"L26","r":"i0","n":750,"m":12.0},{"c":"L26","r":"i0","n":800,"m":12.2},{"c":"L26","r":"i0","n":850,"m":12.1},{"c":"L26","r":"i0","n":900,"m":12.0},{"c":"L26","r":"i0","n":950,"m":12.4},{"c":"L26","r":"i0","n":1000,"m":12.8},
{"c":"L22","r":"i0","n":0,"m":10.8},{"c":"L22","r":"i0","n":50,"m":10.7},{"c":"L22","r":"i0","n":100,"m":10.9},{"c":"L22","r":"i0","n":150,"m":11.0},{"c":"L22","r":"i0","n":200,"m":11.0},{"c":"L22","r":"i0","n":250,"m":10.9},{"c":"L22","r":"i0","n":300,"m":11.1},{"c":"L22","r":"i0","n":350,"m":11.2},{"c":"L22","r":"i0","n":400,"m":11.3},{"c":"L22","r":"i0","n":450,"m":11.1},{"c":"L22","r":"i0","n":500,"m":11.0},{"c":"L22","r":"i0","n":550,"m":10.9},{"c":"L22","r":"i0","n":600,"m":11.0},{"c":"L22","r":"i0","n":650,"m":10.8},{"c":"L22","r":"i0","n":700,"m":10.9},{"c":"L22","r":"i0","n":750,"m":11.1},{"c":"L22","r":"i0","n":800,"m":11.0},{"c":"L22","r":"i0","n":850,"m":11.2},{"c":"L22","r":"i0","n":900,"m":11.1},{"c":"L22","r":"i0","n":950,"m":11.0},{"c":"L22","r":"i0","n":1000,"m":11.1},
{"c":"L18","r":"i0","n":0,"m":9.4},{"c":"L18","r":"i0","n":50,"m":9.2},{"c":"L18","r":"i0","n":100,"m":9.0},{"c":"L18","r":"i0","n":150,"m":9.0},{"c":"L18","r":"i0","n":200,"m":9.1},{"c":"L18","r":"i0","n":250,"m":9.0},{"c":"L18","r":"i0","n":300,"m":9.2},{"c":"L18","r":"i0","n":350,"m":9.1},{"c":"L18","r":"i0","n":400,"m":9.0},{"c":"L18","r":"i0","n":450,"m":9.1},{"c":"L18","r":"i0","n":500,"m":9.0},{"c":"L18","r":"i0","n":550,"m":9.2},{"c":"L18","r":"i0","n":600,"m":9.1},{"c":"L18","r":"i0","n":650,"m":9.0},{"c":"L18","r":"i0","n":700,"m":9.1},{"c":"L18","r":"i0","n":750,"m":9.3},{"c":"L18","r":"i0","n":800,"m":9.1},{"c":"L18","r":"i0","n":850,"m":9.0},{"c":"L18","r":"i0","n":900,"m":9.2},{"c":"L18","r":"i0","n":950,"m":8.8},{"c":"L18","r":"i0","n":1000,"m":9.0},
{"c":"L26","r":"i9","n":0,"m":14.1},{"c":"L26","r":"i9","n":50,"m":14.5},{"c":"L26","r":"i9","n":100,"m":14.4},{"c":"L26","r":"i9","n":150,"m":14.3},{"c":"L26","r":"i9","n":200,"m":14.2},{"c":"L26","r":"i9","n":250,"m":14.1},{"c":"L26","r":"i9","n":300,"m":13.9},{"c":"L26","r":"i9","n":350,"m":14.1},{"c":"L26","r":"i9","n":400,"m":14.0},{"c":"L26","r":"i9","n":450,"m":14.3},{"c":"L26","r":"i9","n":500,"m":14.1},{"c":"L26","r":"i9","n":550,"m":14.2},{"c":"L26","r":"i9","n":600,"m":14.3},{"c":"L26","r":"i9","n":650,"m":14.2},{"c":"L26","r":"i9","n":700,"m":14.4},{"c":"L26","r":"i9","n":750,"m":14.1},{"c":"L26","r":"i9","n":800,"m":14.2},{"c":"L26","r":"i9","n":850,"m":14.5},{"c":"L26","r":"i9","n":900,"m":14.1},{"c":"L26","r":"i9","n":950,"m":13.9},{"c":"L26","r":"i9","n":1000,"m":14.3},
{"c":"L22","r":"i9","n":0,"m":10.5},{"c":"L22","r":"i9","n":50,"m":10.6},{"c":"L22","r":"i9","n":100,"m":10.4},{"c":"L22","r":"i9","n":150,"m":10.5},{"c":"L22","r":"i9","n":200,"m":10.6},{"c":"L22","r":"i9","n":250,"m":10.4},{"c":"L22","r":"i9","n":300,"m":10.5},{"c":"L22","r":"i9","n":350,"m":10.6},{"c":"L22","r":"i9","n":400,"m":10.5},{"c":"L22","r":"i9","n":450,"m":10.7},{"c":"L22","r":"i9","n":500,"m":10.5},{"c":"L22","r":"i9","n":550,"m":10.4},{"c":"L22","r":"i9","n":600,"m":10.6},{"c":"L22","r":"i9","n":650,"m":10.5},{"c":"L22","r":"i9","n":700,"m":10.4},{"c":"L22","r":"i9","n":750,"m":10.6},{"c":"L22","r":"i9","n":800,"m":10.5},{"c":"L22","r":"i9","n":850,"m":10.6},{"c":"L22","r":"i9","n":900,"m":10.4},{"c":"L22","r":"i9","n":950,"m":10.6},{"c":"L22","r":"i9","n":1000,"m":10.5},
{"c":"L18","r":"i9","n":0,"m":8.4},{"c":"L18","r":"i9","n":50,"m":8.3},{"c":"L18","r":"i9","n":100,"m":8.4},{"c":"L18","r":"i9","n":150,"m":8.5},{"c":"L18","r":"i9","n":200,"m":8.4},{"c":"L18","r":"i9","n":250,"m":8.3},{"c":"L18","r":"i9","n":300,"m":8.4},{"c":"L18","r":"i9","n":350,"m":8.5},{"c":"L18","r":"i9","n":400,"m":8.4},{"c":"L18","r":"i9","n":450,"m":8.3},{"c":"L18","r":"i9","n":500,"m":8.5},{"c":"L18","r":"i9","n":550,"m":8.4},{"c":"L18","r":"i9","n":600,"m":8.3},{"c":"L18","r":"i9","n":650,"m":8.4},{"c":"L18","r":"i9","n":700,"m":8.5},{"c":"L18","r":"i9","n":750,"m":8.4},{"c":"L18","r":"i9","n":800,"m":8.3},{"c":"L18","r":"i9","n":850,"m":8.4},{"c":"L18","r":"i9","n":900,"m":8.3},{"c":"L18","r":"i9","n":950,"m":8.4},{"c":"L18","r":"i9","n":1000,"m":8.2}
]},
"facet":{
 "row":{"field":"r","type":"nominal","sort":"ascending","header":{"labels":false,"title":null}},
 "column":{"field":"c","type":"nominal","sort":"descending","header":{"title":null,"labelAnchor":"start","labelAlign":"left","labelFontSize":18,"labelFont":"Liberation Sans","labelPadding":10}}
},
"spacing":{"row":0,"column":0},
"bounds":"flush",
"spec":{
 "width":238,"height":92,
 "layer":[
  {"transform":[{"filter":"isValid(datum.v)"}],
   "mark":{"type":"rect","y2Offset":-0.7},
   "encoding":{
    "x":{"field":"a","type":"quantitative","scale":{"domain":[0,1000],"nice":false},
      "axis":{"title":"nₛ","values":[500,1000],"format":"d","ticks":false,"domain":false,"grid":false,"labelFontSize":18,"labelPadding":8,"labelOverlap":false,"labelFlush":false,"titleFontSize":20,"titleFontWeight":"normal","titlePadding":6}},
    "x2":{"field":"b"},
    "y":{"field":"y","type":"quantitative","scale":{"domain":[0,24],"nice":false,"zero":false},
      "axis":{"title":"Dₛ₁₋ₛ₂","values":[5,15],"ticks":false,"domain":false,"grid":false,"labelFontSize":18,"labelPadding":12,"titleFontSize":20,"titleFontWeight":"normal","titlePadding":13}},
    "y2":{"field":"z"},
    "color":{"field":"v","type":"quantitative","scale":{"domain":[0,0.25,0.5],"range":["#add8e6","#8b0000","#000000"],"interpolate":"rgb"},
      "legend":{"type":"gradient","orient":"none","legendX":71,"legendY":-77,"direction":"horizontal","gradientLength":645,"gradientThickness":14,"gradientStrokeColor":"black","gradientStrokeWidth":1.5,"values":[0,0.1,0.2,0.3,0.4,0.5],"format":"~g","labelFontSize":17,"labelAlign":"center","labelOffset":6,"title":null}}
   }},
  {"transform":[{"filter":"isValid(datum.d)"}],
   "mark":{"type":"rule","color":"#444444","strokeWidth":1,"strokeDash":[2,2]},
   "encoding":{"y":{"field":"d","type":"quantitative"}}},
  {"transform":[{"filter":"isValid(datum.s)"}],
   "mark":{"type":"rule","color":"black","strokeWidth":1.5},
   "encoding":{"y":{"field":"s","type":"quantitative"}}},
  {"transform":[{"filter":"isValid(datum.m)"}],
   "mark":{"type":"line","color":"#ff0000","strokeWidth":1.3},
   "encoding":{"x":{"field":"n","type":"quantitative"},"y":{"field":"m","type":"quantitative"}}},
  {"transform":[{"filter":"isValid(datum.d)"}],
   "mark":{"type":"rect","filled":false,"stroke":"black","strokeWidth":1.5},
   "encoding":{"x":{"datum":0},"x2":{"datum":1000},"y":{"datum":0},"y2":{"datum":24}}},
  {"transform":[{"filter":"isValid(datum.d)"}],
   "mark":{"type":"rule","color":"black","strokeWidth":8,"strokeDash":[1.5,22.3],"strokeDashOffset":0.75},
   "encoding":{"y":{"datum":24}}},
  {"transform":[{"filter":"isValid(datum.d)"}],
   "mark":{"type":"rule","color":"black","strokeWidth":8,"strokeDash":[1.5,22.3],"strokeDashOffset":0.75},
   "encoding":{"y":{"datum":0}}},
  {"transform":[{"filter":"isValid(datum.d)"}],"mark":{"type":"rule","color":"black","strokeWidth":1.5,"strokeDash":[8,76,8,1000]},"encoding":{"x":{"datum":500},"y":{"datum":0},"y2":{"datum":24}}},
  {"transform":[{"filter":"isValid(datum.t)"}],
   "mark":{"type":"text","align":"left","baseline":"alphabetic","fontSize":21,"font":"Liberation Sans","color":"black"},
   "encoding":{"x":{"datum":720},"y":{"datum":19},"text":{"field":"t"}}},
  {"transform":[{"filter":"datum.t=='bcc'"}],
   "mark":{"type":"text","align":"left","baseline":"alphabetic","fontSize":15,"font":"Liberation Sans","color":"black","dx":33,"dy":5},
   "encoding":{"x":{"datum":720},"y":{"datum":19},"text":{"field":"u"}}},
  {"transform":[{"filter":"datum.t=='fcc'"}],
   "mark":{"type":"text","align":"left","baseline":"alphabetic","fontSize":15,"font":"Liberation Sans","color":"black","dx":27,"dy":5},
   "encoding":{"x":{"datum":720},"y":{"datum":19},"text":{"field":"u"}}},
  {"transform":[{"filter":"datum.t=='icos'"}],
   "mark":{"type":"text","align":"left","baseline":"alphabetic","fontSize":15,"font":"Liberation Sans","color":"black","dx":36,"dy":5},
   "encoding":{"x":{"datum":720},"y":{"datum":19},"text":{"field":"u"}}}
 ]
},
"config":{
 "font":"Liberation Sans",
 "view":{"stroke":"black","strokeWidth":1.5},
 "axis":{"labelFont":"Liberation Sans","titleFont":"Liberation Sans","labelColor":"black","titleColor":"black"},
 "legend":{"labelFont":"Liberation Sans","labelColor":"black"}
}
}
